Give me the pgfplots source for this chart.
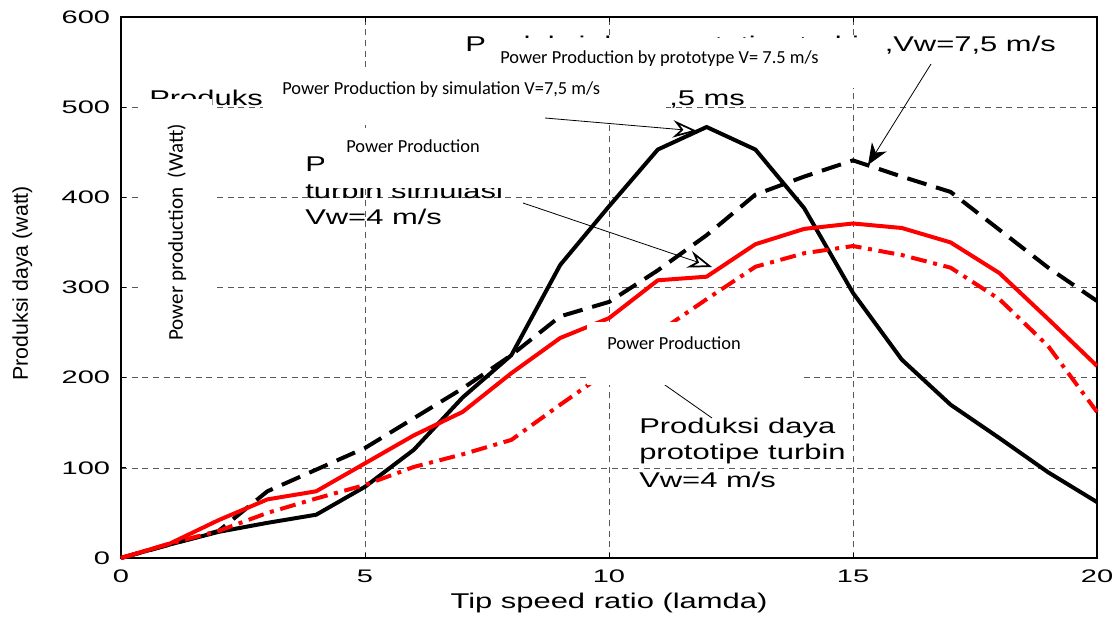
\documentclass[border=0pt]{standalone}
\usepackage{fontspec}
\setmainfont{Liberation Sans}
\newfontfamily\widefont[FakeStretch=1.45]{Liberation Sans}
\newfontfamily\tickfont[FakeStretch=1.6]{Liberation Sans}
\newfontfamily\calfont{Carlito}
\usepackage{pgfplots}
\pgfplotsset{compat=1.18}
\usetikzlibrary{arrows.meta}
\begin{document}
\begin{tikzpicture}
\begin{axis}[
  scale only axis, width=732pt, height=405.75pt,
  xmin=0, xmax=20, ymin=0, ymax=600,
  xtick={0,5,10,15,20}, ytick={0,100,200,300,400,500,600},
  grid=major,
  grid style={dash pattern=on 4.5pt off 3.5pt, black!65, line width=0.5pt},
  axis line style={line width=0.9pt},
  tick align=inside, major tick length=4pt,
  tick style={black, line width=0.6pt},
  /pgf/number format/assume math mode=true,
  xticklabel style={font=\fontsize{13.6}{15}\tickfont, inner sep=0pt, yshift=-9pt},
  yticklabel style={font=\fontsize{13.6}{15}\tickfont, inner sep=0pt, xshift=-8pt},
  xlabel={Tip speed ratio (lamda)},
  xlabel style={font=\fontsize{16}{18}\widefont, at={(axis description cs:0.5,0)}, anchor=base, yshift=-37.5pt, inner sep=0pt},
  ylabel={Produksi daya (watt)},
  ylabel style={font=\fontsize{16}{18}\selectfont, at={(axis description cs:-0.0953,0.508)}, anchor=base, inner sep=0pt},
  clip=false,
]
% prototype, Vw = 7.5
\addplot[black, line width=3pt, line join=round] coordinates {
(0,0) (1,15) (2,29) (3,39) (4,48) (5,79) (6,120) (7,178) (8,225) (9,325)
(10,390) (11,453) (12,478) (13,453) (14,388) (15,294) (16,220) (17,170)
(18,133) (19,95) (20,62)};
% simulation, Vw = 7.5
\addplot[black, line width=3pt, line join=round, dash pattern=on 15pt off 7.5pt] coordinates {
(0,0) (1,15) (2,30) (3,74) (4,98) (5,122) (6,155) (7,188) (8,225) (9,268)
(10,284) (11,319) (12,358) (13,403) (14,423) (15,441) (16,423) (17,406)
(18,364) (19,322) (20,285)};
% simulation, Vw = 4
\addplot[red, line width=3pt, line join=round] coordinates {
(0,0) (1,16) (2,42) (3,65) (4,74) (5,105) (6,136) (7,162) (8,205) (9,244)
(10,266) (11,308) (12,312) (13,348) (14,365) (15,371) (16,366) (17,350)
(18,316) (19,265) (20,213)};
% prototype, Vw = 4
\addplot[red, line width=3pt, line join=round, dash pattern=on 12pt off 5pt on 3pt off 5pt] coordinates {
(0,0) (1,16) (2,30) (3,50) (4,66) (5,81) (6,101) (7,115) (8,131) (9,170)
(10,208) (11,250) (12,287) (13,323) (14,338) (15,346) (16,336) (17,322)
(18,287) (19,235) (20,162)};
\coordinate (bl) at (rel axis cs:0,0);
\end{axis}
\begin{scope}[shift={([xshift=-90.75pt,yshift=418.5pt]bl)}, x=0.75pt, y=-0.75pt]
  \begin{scope}[every node/.style={anchor=base west, inner sep=0pt, font=\fontsize{16}{18}\widefont}]
    \node at (465,52) {Produksi daya prototipe turbin ,Vw=7,5 m/s};
    \node at (149,106) {Produks};
    \node at (669,106) {,5 ms};
    \node at (305,172) {Produksi daya};
    \node at (305,199) {turbin simulasi};
    \node at (305,225) {Vw=4 m/s};
    \node at (639,433) {Produksi daya};
    \node at (639,459) {prototipe turbin};
    \node at (639,487) {Vw=4 m/s};
  \end{scope}
  \draw[line width=0.6pt] (712,418) -- (655,378);
  \fill[white] (487,38) rectangle (881,88);
  \fill[white] (263,67) rectangle (666,122);
  \fill[white] (142,99) rectangle (212,352);
  \fill[white] (324,128) rectangle (560,188);
  \fill[white] (587,322) rectangle (800,385);
  \begin{scope}[every node/.style={anchor=base west, inner sep=0pt, font=\fontsize{13.8}{16}\calfont}]
    \node at (500,64) {Power Production by prototype V= 7.5 m/s};
    \node at (282,95) {Power Production by simulation V=7,5 m/s};
    \node at (346,153) {Power Production};
    \node at (607,350) {Power Production};
  \end{scope}
  \node[rotate=90, anchor=base, inner sep=0pt, font=\fontsize{15.8}{18}\calfont] at (183,232.5) {Power production\ \ (Watt)};
  \draw[line width=0.6pt, -{Stealth[open, length=18pt, width=13pt, inset=6pt, line width=1.3pt]}] (545,118) -- (697,131);
  \draw[line width=0.6pt, -{Stealth[open, length=18pt, width=13pt, inset=6pt, line width=1.3pt]}] (523,203) -- (712,267);
  \draw[line width=0.6pt, -{Stealth[length=16pt, width=13pt, inset=5pt]}] (931,64) -- (868,165);
\end{scope}
\pgfresetboundingbox
\path[use as bounding box] ([xshift=-90.75pt,yshift=-45pt]bl) rectangle ([xshift=747pt,yshift=418.5pt]bl);
\end{tikzpicture}
\end{document}
